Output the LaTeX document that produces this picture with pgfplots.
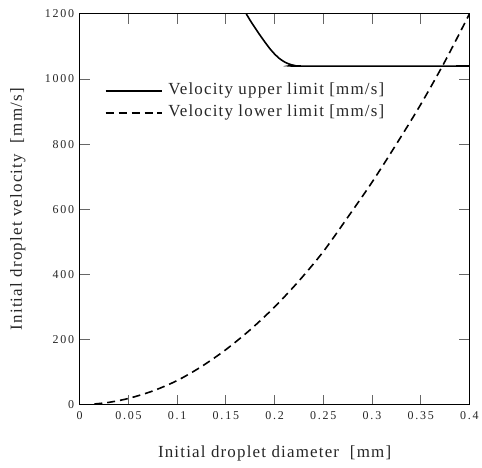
\documentclass[border=0pt]{standalone}
\usepackage{fontspec}
\setmainfont{Liberation Serif}
\newfontfamily\lbl{Liberation Serif}[LetterSpace=7]
\newfontfamily\tck{Liberation Serif}[LetterSpace=15]
\usepackage{pgfplots}
\pgfplotsset{compat=1.18}
\begin{document}
\begin{tikzpicture}
\begin{axis}[
  scale only axis, width=391bp, height=392bp,
  xmin=0, xmax=0.4, ymin=0, ymax=1200,
  xtick={0,0.05,0.1,0.15,0.2,0.25,0.3,0.35,0.4},
  xticklabels={0,0.05,0.1,0.15,0.2,0.25,0.3,0.35,0.4},
  ytick={0,200,400,600,800,1000,1200},
  yticklabels={0,200,400,600,800,1000,1200},
  tick align=inside, major tick length=10bp,
  every tick/.style={black!60, line width=1bp},
  axis line style={line width=1.1bp, black},
  tick label style={font=\fontsize{12bp}{14bp}\tck, text=black!85},
  xticklabel style={anchor=north, yshift=-3bp},
  yticklabel style={anchor=east, xshift=-2bp},
  label style={font=\fontsize{17bp}{20bp}\lbl, text=black!85},
  xlabel={Initial droplet diameter\ \ [mm]},
  ylabel={Initial droplet velocity\ \ [mm/s]},
  xlabel style={at={(axis description cs:0.5,-0.125)}, anchor=center},
  ylabel style={at={(axis description cs:-0.1586,0.5)}, anchor=center, rotate=0},
  legend style={at={(axis description cs:0.064,0.824)}, anchor=north west,
    draw=none, fill=none, font=\fontsize{17bp}{20bp}\lbl, text=black!85,
    row sep=6bp, inner sep=0pt,
    nodes={inner sep=0pt, text height=12bp, text depth=4bp}},
  legend cell align=left,
  legend image code/.code={\draw[#1] (0bp,0bp) -- (57bp,0bp); \path (62bp,0bp);},
]
\addplot[black, line width=1.6bp, smooth, tension=0.4] coordinates {
(0.171,1200) (0.175,1180) (0.18,1157) (0.185,1135) (0.19,1114) (0.195,1094)
(0.2,1077) (0.205,1063) (0.21,1053) (0.215,1046) (0.22,1042) (0.225,1040)
(0.4,1040)};
\addlegendentry{Velocity upper limit [mm/s]}
\addplot[black, line width=1.6bp, dash pattern=on 8bp off 5bp, smooth] coordinates {
(0.015,2) (0.03,7) (0.05,19) (0.075,42) (0.1,74) (0.125,117) (0.15,169)
(0.175,230) (0.2,300) (0.225,380) (0.25,470) (0.275,575) (0.3,683)
(0.325,800) (0.35,922) (0.375,1055) (0.4,1200)};
\addlegendentry{Velocity lower limit [mm/s]}
\end{axis}
\path (current axis.south west) ++(-80bp,-63bp) rectangle ++(482bp,469bp);
\end{tikzpicture}
\end{document}
